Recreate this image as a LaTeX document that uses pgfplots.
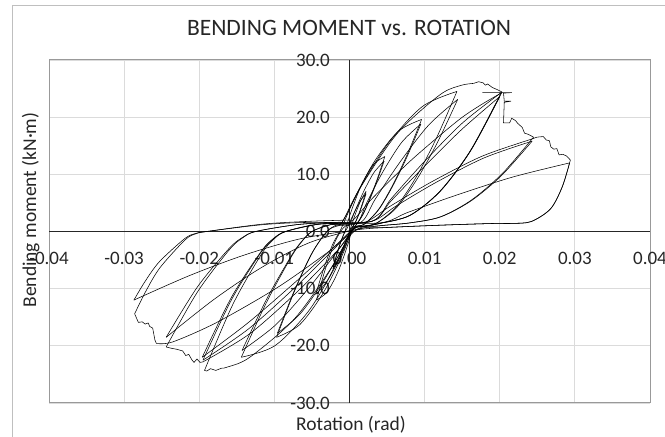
\documentclass[border=0pt]{standalone}
\usepackage{fontspec}
\setmainfont{Carlito}
\usepackage{pgfplots}
\pgfplotsset{compat=1.18}

% curve styles: smooth branches and sharp (sawtooth) segments
\tikzset{
  hy/.style={black, line width=0.55bp, smooth, tension=0.5},
  hs/.style={black, line width=0.55bp, sharp plot}
}

\begin{document}
\begin{tikzpicture}
\path[use as bounding box] (0bp,0bp) rectangle (665bp,437bp);
% chart area frame
\draw[black!25, line width=1bp] (12bp,-2bp) -- (12bp,431bp) -- (667bp,431bp);

\begin{axis}[
  at={(349.5bp,205.5bp)}, anchor=origin,
  scale only axis, width=601bp, height=343bp,
  xmin=-0.04, xmax=0.04, ymin=-30, ymax=30,
  xtick={-0.04,-0.03,-0.02,-0.01,0,0.01,0.02,0.03,0.04},
  xticklabels={-0.04,-0.03,-0.02,-0.01,0.00,0.01,0.02,0.03,0.04},
  ytick={-30,-20,-10,0,10,20,30},
  yticklabels={-30.0,-20.0,-10.0,0.0,10.0,20.0,30.0},
  scaled x ticks=false, scaled y ticks=false,
  grid=major,
  major grid style={draw=black!14, line width=0.9bp},
  axis line style={draw=black!40, line width=1bp},
  major tick length=0pt,
  tick style={draw=none},
  xticklabel style={anchor=center, yshift=145bp, inner sep=0pt,
    font=\fontsize{19bp}{22bp}\selectfont, text=black!85},
  yticklabel style={anchor=east, xshift=281bp, inner sep=0pt,
    font=\fontsize{19bp}{22bp}\selectfont, text=black!85},
]
% axes through the origin
\draw[black!85, line width=0.7bp] (axis cs:-0.04,0) -- (axis cs:0.04,0);
\draw[black!85, line width=0.7bp] (axis cs:0,-30) -- (axis cs:0,30);

% ---- cycles at +/-0.0022 rad
\addplot[hy] coordinates {(0,0) (0.00033,1.33) (0.00088,3.40) (0.00154,5.54) (0.0022,7.0)};
\addplot[hy] coordinates {(0.0022,7.0) (0.00175,5.07) (0.0013,3.32) (0.00085,1.82) (0.0004,0.8) (-0.00016,-0.83) (-0.00076,-2.90) (-0.00148,-5.04) (-0.0022,-6.5)};
\addplot[hy] coordinates {(-0.0022,-6.5) (-0.00164,-3.87) (-0.00108,-1.53) (-0.0006,0) (-0.0003,0.6) (0.000075,1.74) (0.0007,3.51) (0.00145,5.35) (0.0022,6.6)};
\addplot[hy] coordinates {(0.0022,6.6) (0.00175,4.79) (0.0013,3.15) (0.00085,1.76) (0.0004,0.8) (-0.00016,-0.77) (-0.00076,-2.75) (-0.00148,-4.80) (-0.0022,-6.2)};
% ---- cycles at +/-0.0045 rad
\addplot[hy] coordinates {(-0.0022,-6.2) (-0.00164,-3.70) (-0.00108,-1.46) (-0.0006,0) (-0.0004,1.0) (0.00037,4.07) (0.00164,8.27) (0.00317,11.71) (0.0047,13.1)};
\addplot[hy] coordinates {(0.0047,13.1) (0.00373,9.32) (0.00275,5.91) (0.00178,3.00) (0.0008,1.0) (0.0004,0.5) (-0.00032,-2.68) (-0.00152,-7.01) (-0.00296,-10.56) (-0.0044,-12.0)};
\addplot[hy] coordinates {(-0.0044,-12.0) (-0.00328,-6.85) (-0.00216,-2.51) (-0.0012,0) (-0.0005,1.0) (0,1.2) (0.00069,3.45) (0.00184,6.87) (0.00322,10.25) (0.0046,12.3)};
\addplot[hy] coordinates {(0.0046,12.3) (0.00365,8.77) (0.0027,5.59) (0.00175,2.86) (0.0008,1.0) (0.0002,0.6) (-0.0005,-1.75) (-0.00168,-5.33) (-0.00309,-8.85) (-0.0045,-11.0)};
% ---- cycles at +/-0.0096 rad
\addplot[hy] coordinates {(-0.0045,-11.0) (-0.00338,-6.28) (-0.00226,-2.30) (-0.0013,0) (-0.0008,1.4) (0.00076,6.02) (0.00336,12.34) (0.00648,17.51) (0.0096,19.6)};
\addplot[hy] coordinates {(0.0096,19.6) (0.0077,13.52) (0.0058,8.24) (0.0039,3.93) (0.002,1.3) (0.0005,0.5) (-0.00103,-4.33) (-0.00358,-10.92) (-0.00664,-16.32) (-0.0097,-18.5)};
\addplot[hy] coordinates {(-0.0097,-18.5) (-0.00736,-10.56) (-0.00501,-3.87) (-0.003,0) (-0.0015,1.0) (0.001,1.5) (0.00228,5.01) (0.0044,10.34) (0.00695,15.60) (0.0095,18.8)};
\addplot[hy] coordinates {(0.0095,18.8) (0.00763,12.99) (0.00575,7.93) (0.00388,3.81) (0.002,1.3) (0.0005,0.5) (-0.00102,-3.21) (-0.00354,-8.85) (-0.00657,-14.41) (-0.0096,-17.8)};
% ---- cycles at +/-0.0144 rad
\addplot[hy] coordinates {(-0.0096,-17.8) (-0.00729,-10.16) (-0.00498,-3.72) (-0.003,0) (-0.0018,1.1) (-0.001,1.6) (0.0013,7.42) (0.00512,15.36) (0.00971,21.87) (0.0143,24.5)};
\addplot[hy] coordinates {(0.0143,24.5) (0.0116,16.42) (0.0089,9.58) (0.0062,4.29) (0.0035,1.4) (0.0015,0.9) (0.0005,0.4) (-0.00174,-5.82) (-0.00546,-13.94) (-0.00993,-19.98) (-0.0144,-22.0)};
\addplot[hy] coordinates {(-0.0144,-22.0) (-0.01111,-12.56) (-0.00782,-4.60) (-0.00641,-1.87) (-0.005,0) (-0.0025,1.2) (0.0015,1.6) (0.00344,5.69) (0.00666,12.03) (0.01053,18.61) (0.0144,23.1)};
\addplot[hy] coordinates {(0.0144,23.1) (0.01168,15.51) (0.00895,9.08) (0.00623,4.11) (0.0035,1.4) (0.0015,0.9) (0.0005,0.4) (-0.00172,-3.63) (-0.00542,-9.88) (-0.00986,-16.37) (-0.0143,-20.8)};
% ---- cycles at +/-0.020 rad
\addplot[hy] coordinates {(-0.0143,-20.8) (-0.01105,-11.88) (-0.00779,-4.35) (-0.0064,-1.77) (-0.005,0) (-0.0025,1.2) (-0.001,1.6) (0.00179,8.40) (0.00644,17.28) (0.01202,23.90) (0.01481,25.55) (0.0165,25.9)};
\addplot[hs] coordinates {(0.0165,25.9) (0.0172,26.2) (0.0178,26.0) (0.0181,25.6) (0.0184,25.8) (0.0190,25.2) (0.0197,24.8) (0.0203,24.4)};
\addplot[hy] coordinates {(0.0203,24.4) (0.01623,14.34) (0.01215,7.15) (0.00808,2.84) (0.004,1.4) (0.002,0.9) (0.0005,0.4) (-0.00247,-6.45) (-0.00742,-15.41) (-0.01336,-22.08) (-0.01633,-23.74) (-0.0170,-23.9)};
\addplot[hs] coordinates {(-0.0170,-23.9) (-0.0178,-24.3) (-0.0185,-24.0) (-0.0190,-24.4) (-0.0193,-24.3)};
\addplot[hy] coordinates {(-0.0193,-24.3) (-0.01552,-12.73) (-0.01174,-3.99) (-0.01012,-1.41) (-0.0085,0) (-0.004,1.3) (0.003,1.8) (0.00558,5.78) (0.00988,12.11) (0.01504,18.99) (0.0202,24.3)};
\addplot[hy] coordinates {(0.0202,24.3) (0.01615,14.28) (0.0121,7.13) (0.00805,2.83) (0.004,1.4) (0.002,0.9) (0.0005,0.4) (-0.0025,-3.65) (-0.0075,-10.09) (-0.0135,-17.10) (-0.0195,-22.5)};
\addplot[hy] coordinates {(-0.0195,-22.5) (-0.01565,-11.79) (-0.0118,-3.69) (-0.01015,-1.31) (-0.0085,0) (-0.004,1.3) (0.003,1.8) (0.00555,5.38) (0.0098,11.17) (0.0149,17.80) (0.0200,23.6)};
\addplot[hy] coordinates {(0.0200,23.6) (0.016,13.89) (0.012,6.95) (0.008,2.79) (0.004,1.4) (0.002,0.9) (0.0005,0.4) (-0.00252,-3.27) (-0.00754,-9.23) (-0.01357,-16.04) (-0.0196,-22.0)};
% ---- cycles at +/-0.0245 rad
\addplot[hy] coordinates {(-0.0196,-22.0) (-0.01572,-11.53) (-0.01183,-3.61) (-0.01017,-1.28) (-0.0085,0) (-0.004,1.3) (0,1.6) (0.00308,5.86) (0.0082,12.46) (0.01435,19.32) (0.01743,22.10) (0.0203,24.3)};
\addplot[hs] coordinates {(0.0203,24.3) (0.0177,24.3) (0.0216,24.3) (0.0205,24.2) (0.0206,22.8) (0.0215,22.8) (0.0206,22.6) (0.0205,19.0) (0.0213,19.0) (0.0216,19.8) (0.0221,19.4) (0.0224,18.9) (0.0230,18.2) (0.0233,17.2) (0.0238,17.0) (0.0245,16.5)};
\addplot[hy] coordinates {(0.0245,16.5) (0.02038,10.19) (0.01625,5.52) (0.01213,2.58) (0.008,1.5) (0.004,1.0) (0.001,0.4) (-0.00208,-4.01) (-0.0072,-10.85) (-0.01335,-17.95) (-0.0195,-22.8)};
\addplot[hs] coordinates {(-0.0195,-22.8) (-0.0199,-22.9) (-0.0203,-22.3) (-0.0207,-22.9) (-0.0210,-22.4) (-0.0214,-21.5) (-0.0218,-21.7) (-0.0222,-20.9) (-0.0230,-20.6) (-0.0238,-20.4) (-0.0244,-20.2)};
\addplot[hy] coordinates {(-0.0244,-20.2) (-0.02024,-10.58) (-0.01607,-3.31) (-0.01429,-1.17) (-0.0125,0) (-0.007,1.2) (-0.002,1.6) (0.003,1.8) (0.0062,4.46) (0.01152,8.59) (0.01791,12.87) (0.0243,15.8)};
\addplot[hy] coordinates {(0.0243,15.8) (0.02023,9.78) (0.01615,5.33) (0.01208,2.53) (0.008,1.5) (0.004,1.0) (0.001,0.4) (-0.00535,-1.96) (-0.0117,-6.29) (-0.01805,-11.89) (-0.0244,-18.5)};
% ---- cycles at +/-0.029 rad
\addplot[hy] coordinates {(-0.0244,-18.5) (-0.02024,-9.69) (-0.01607,-3.03) (-0.01429,-1.07) (-0.0125,0) (-0.007,1.2) (-0.002,1.6) (0.002,1.6) (0.00535,4.37) (0.01092,8.68) (0.01761,13.15) (0.0243,16.2) (0.0250,16.5) (0.0258,16.6)};
\addplot[hs] coordinates {(0.0258,16.6) (0.0262,16.0) (0.0266,15.9) (0.0268,14.8) (0.0272,14.4) (0.0276,14.5) (0.0279,13.4) (0.0284,13.5) (0.0289,13.2) (0.0294,12.5)};
\addplot[hy] coordinates {(0.0294,12.5) (0.02836,7.95) (0.0268,4.03) (0.0242,1.74) (0.0216,1.41) (0.019,1.4) (0.012,1.1) (0.005,0.7) (0.001,0.3) (-0.003,-3.74) (-0.00968,-9.87) (-0.01769,-15.92) (-0.0235,-19.3) (-0.0257,-19.6)};
\addplot[hs] coordinates {(-0.0257,-19.6) (-0.0259,-19.0) (-0.0262,-16.9) (-0.0266,-16.6) (-0.0268,-16.0) (-0.0272,-16.2) (-0.0276,-15.8) (-0.0281,-15.9) (-0.0284,-15.0) (-0.0286,-14.4)};
\addplot[hy] coordinates {(-0.0286,-14.4) (-0.02716,-10.57) (-0.02524,-6.35) (-0.02188,-1.46) (-0.02044,-0.39) (-0.019,0) (-0.0115,1.2) (-0.005,1.6) (0.004,1.5) (0.0078,3.36) (0.01412,6.31) (0.02171,9.52) (0.0293,12.0)};
\addplot[hy] coordinates {(0.0293,12.0) (0.02827,7.65) (0.02673,3.91) (0.02415,1.73) (0.02158,1.41) (0.019,1.4) (0.012,1.1) (0.005,0.7) (0.001,0.3) (-0.00643,-1.24) (-0.01385,-4.05) (-0.02128,-7.70) (-0.0287,-12.0)};
\addplot[hy] coordinates {(-0.0287,-12.0) (-0.02725,-8.81) (-0.02531,-5.29) (-0.02191,-1.22) (-0.02046,-0.33) (-0.019,0) (-0.0115,1.3) (-0.005,1.8) (0,2.0)};
\end{axis}

\node[anchor=base, font=\fontsize{23.5bp}{28bp}\selectfont, text=black!85] at (349bp,401bp) {BENDING MOMENT vs. ROTATION};
\node[anchor=base, font=\fontsize{19.5bp}{23bp}\selectfont, text=black!85] at (351bp,7bp) {Rotation (rad)};
\node[anchor=base, rotate=90, font=\fontsize{19.5bp}{23bp}\selectfont, text=black!85] at (36bp,227bp) {Bending moment (kN·m)};
\end{tikzpicture}
\end{document}
